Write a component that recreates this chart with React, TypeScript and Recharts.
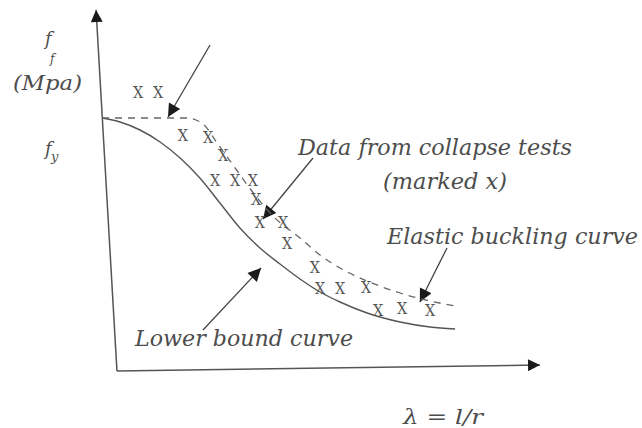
import { ComposedChart, Line, Scatter, XAxis, YAxis, ReferenceLine } from 'recharts'

// slenderness λ = l/r on x, stress f (MPa) on y, yield fy = 250
const elasticCurve = [
  { x: 0, y: 250 }, { x: 38.6, y: 250 }, { x: 45.9, y: 244 }, { x: 52.3, y: 225 },
  { x: 60.5, y: 200 }, { x: 69.5, y: 173 }, { x: 78.6, y: 150 }, { x: 90, y: 130 },
  { x: 99.1, y: 113 }, { x: 108.2, y: 100 }, { x: 120.5, y: 87 }, { x: 135.5, y: 75 },
  { x: 149.1, y: 67 }, { x: 160.5, y: 62 },
]

const lowerBound = [
  { x: 0, y: 250 }, { x: 8.2, y: 246 }, { x: 17.3, y: 238 }, { x: 26.4, y: 226 },
  { x: 35.5, y: 210 }, { x: 44.5, y: 190 }, { x: 53.6, y: 165 }, { x: 62.7, y: 140 },
  { x: 71.8, y: 120 }, { x: 80.9, y: 104 }, { x: 90, y: 89 }, { x: 99.1, y: 76 },
  { x: 108.2, y: 66 }, { x: 120.5, y: 55 }, { x: 135.5, y: 46 }, { x: 149.1, y: 41 },
  { x: 160.5, y: 39 },
]

// collapse test results, marked x
const collapseTests = [
  { x: 16.4, y: 276 }, { x: 25.5, y: 276 }, { x: 36.8, y: 233 }, { x: 48.2, y: 231 },
  { x: 55, y: 213 }, { x: 51.4, y: 188 }, { x: 60.5, y: 188 }, { x: 68.6, y: 188 },
  { x: 70, y: 169 }, { x: 71.8, y: 146 }, { x: 82.3, y: 146 }, { x: 84.1, y: 125 },
  { x: 96.8, y: 101 }, { x: 99.1, y: 80 }, { x: 108.2, y: 80 }, { x: 120, y: 81 },
  { x: 125.5, y: 58 }, { x: 136.4, y: 60 }, { x: 149.1, y: 58 },
]

// hand-drawn axes (slightly skewed) and label pointers, as [from, to]
const axisLines = [
  [{ x: 6.8, y: -3 }, { x: -2.7, y: 358 }],
  [{ x: 6.8, y: -3 }, { x: 199.1, y: 3 }],
]
const pointers = [
  [{ x: 49.1, y: 323 }, { x: 30, y: 251 }],
  [{ x: 95.9, y: 210 }, { x: 73.2, y: 149 }],
  [{ x: 156.8, y: 120 }, { x: 144.5, y: 66 }],
  [{ x: 45.9, y: 38 }, { x: 72.3, y: 100 }],
]

const ink = '#4d4d4d'
const labelFont = "'DejaVu Serif', serif"

const Cross = (props: any) => (
  <text x={props.cx} y={props.cy} textAnchor="middle" dominantBaseline="central"
    fontFamily="'DejaVu Serif Condensed', 'DejaVu Serif', serif" fontSize={16} fill="#555">X</text>
)

export default function App() {
  return (
    <div style={{ position: 'absolute', left: 0, top: 0, width: 642, height: 428, background: '#fff' }}>
      <ComposedChart width={642} height={428} margin={{ top: 8, right: 100, bottom: 50, left: 91 }}>
        <XAxis type="number" dataKey="x" domain={[-5, 200]} hide />
        <YAxis type="number" dataKey="y" domain={[-10, 360]} hide />
        {axisLines.map((seg, i) => (
          <ReferenceLine key={'a' + i} segment={seg} ifOverflow="visible" stroke="#555" strokeWidth={1.5}
            markerEnd="url(#axisTip)" />
        ))}
        {pointers.map((seg, i) => (
          <ReferenceLine key={'p' + i} segment={seg} ifOverflow="visible" stroke="#444" strokeWidth={1.3}
            markerEnd="url(#tip)" />
        ))}
        <Line data={lowerBound} dataKey="y" type="monotone" stroke="#555" strokeWidth={1.4}
          dot={false} isAnimationActive={false} />
        <Line data={elasticCurve} dataKey="y" type="monotone" stroke="#666" strokeWidth={1.3}
          strokeDasharray="7 6" dot={false} isAnimationActive={false} />
        <Scatter data={collapseTests} shape={Cross} isAnimationActive={false} />
      </ComposedChart>
      <svg width={642} height={428} style={{ position: 'absolute', left: 0, top: 0, pointerEvents: 'none' }}>
        <defs>
          <marker id="tip" viewBox="0 0 10 10" refX={10} refY={5} markerWidth={17} markerHeight={13}
            markerUnits="userSpaceOnUse" orient="auto">
            <path d="M0,0 L10,5 L0,10 z" fill="#1a1a1a" />
          </marker>
          <marker id="axisTip" viewBox="0 0 10 10" refX={10} refY={5} markerWidth={15} markerHeight={12}
            markerUnits="userSpaceOnUse" orient="auto">
            <path d="M0,0 L10,5 L0,10 z" fill="#1a1a1a" />
          </marker>
        </defs>
        <g fontFamily={labelFont} fontStyle="italic" fill={ink}>
          <text x={45} y={45} fontSize={18}>f</text>
          <text x={50} y={63} fontSize={12}>f</text>
          <text x={13} y={90} fontSize={20} textLength={69} lengthAdjust="spacingAndGlyphs">(Mpa)</text>
          <text x={45} y={155} fontSize={18}>f</text>
          <text x={51} y={161} fontSize={13}>y</text>
          <text x={298} y={155} fontSize={22} textLength={274} lengthAdjust="spacingAndGlyphs">Data from collapse tests</text>
          <text x={383} y={189} fontSize={22} textLength={124} lengthAdjust="spacingAndGlyphs">(marked x)</text>
          <text x={387} y={244} fontSize={22} textLength={251} lengthAdjust="spacingAndGlyphs">Elastic buckling curve</text>
          <text x={135} y={346} fontSize={22} textLength={218} lengthAdjust="spacingAndGlyphs">Lower bound curve</text>
          <text x={403} y={424} fontSize={20} textLength={80} lengthAdjust="spacingAndGlyphs">λ = l/r</text>
        </g>
      </svg>
    </div>
  )
}
